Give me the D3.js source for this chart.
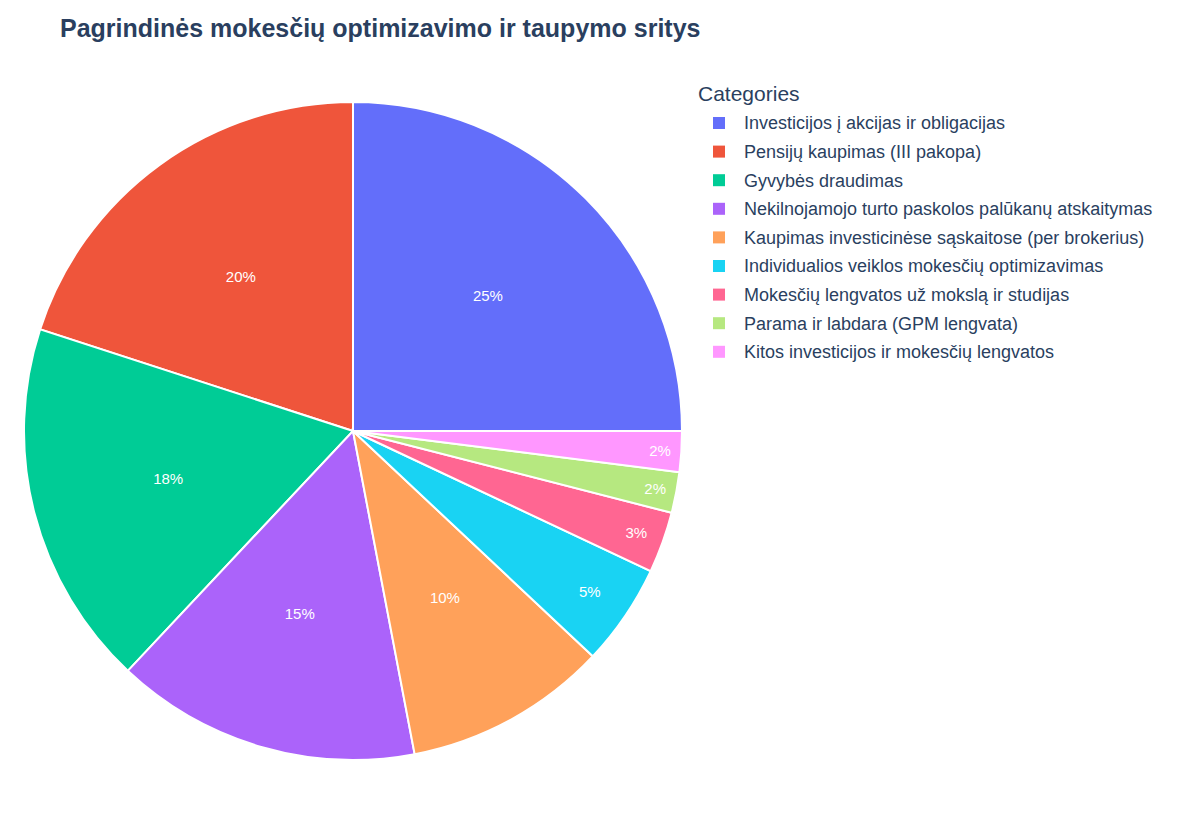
<!DOCTYPE html>
<html><head><meta charset="utf-8">
<script src="https://cdn.jsdelivr.net/npm/d3@7"></script>
<style>body{margin:0;background:#fff;font-family:"Liberation Sans",Arial,sans-serif;}</style>
</head><body><div id="chart"></div>
<script>
const categories = [
  "Investicijos į akcijas ir obligacijas",
  "Pensijų kaupimas (III pakopa)",
  "Gyvybės draudimas",
  "Nekilnojamojo turto paskolos palūkanų atskaitymas",
  "Kaupimas investicinėse sąskaitose (per brokerius)",
  "Individualios veiklos mokesčių optimizavimas",
  "Mokesčių lengvatos už mokslą ir studijas",
  "Parama ir labdara (GPM lengvata)",
  "Kitos investicijos ir mokesčių lengvatos"
];
const values = [25, 20, 18, 15, 10, 5, 3, 2, 2];
const colors = ["#636efa","#ef553b","#00cc96","#ab63fa","#ffa15a","#19d3f3","#ff6692","#b6e880","#ff97ff"];

const width = 1200, height = 840;
const cx = 353, cy = 431, R = 329;

const svg = d3.select("#chart").append("svg")
  .attr("width", width).attr("height", height);

svg.append("text").attr("x", 60).attr("y", 37)
  .attr("font-family", "Liberation Sans, Arial, sans-serif")
  .attr("font-size", 25).attr("font-weight", "bold").attr("fill", "#2a3f5f")
  .text("Pagrindinės mokesčių optimizavimo ir taupymo sritys");

// counterclockwise from 3 o'clock
const pie = d3.pie().sort(null).value(d => d)
  .startAngle(Math.PI / 2).endAngle(Math.PI / 2 - 2 * Math.PI)(values);
const arc = d3.arc().innerRadius(0).outerRadius(R);
const total = d3.sum(values);

const g = svg.append("g").attr("transform", `translate(${cx},${cy})`);
g.selectAll("path").data(pie).enter().append("path")
  .attr("d", arc)
  .attr("fill", (d, i) => colors[i])
  .attr("stroke", "#fff").attr("stroke-width", 2);

g.selectAll("text.lbl").data(pie).enter().append("text")
  .attr("class", "lbl")
  .attr("transform", d => {
    const share = d.data / total;
    const r = share >= 0.1 ? R * 0.58 : share >= 0.05 ? R * 0.87 : share >= 0.03 ? R * 0.915 : R * 0.935;
    const a = (d.startAngle + d.endAngle) / 2;
    return `translate(${r * Math.sin(a)},${-r * Math.cos(a)})`;
  })
  .attr("text-anchor", "middle").attr("dy", "0.35em")
  .attr("font-family", "Liberation Sans, Arial, sans-serif")
  .attr("font-size", 15).attr("fill", "#fff")
  .text(d => Math.round(d.data / total * 100) + "%");

const legend = svg.append("g").attr("transform", "translate(698,0)");
legend.append("text").attr("x", 0).attr("y", 101)
  .attr("font-family", "Liberation Sans, Arial, sans-serif")
  .attr("font-size", 21).attr("fill", "#2a3f5f").text("Categories");
const items = legend.selectAll("g.item").data(categories).enter().append("g")
  .attr("transform", (d, i) => `translate(0,${123 + i * 28.6})`);
items.append("rect").attr("x", 15).attr("y", -6).attr("width", 12).attr("height", 12)
  .attr("fill", (d, i) => colors[i]);
items.append("text").attr("x", 46).attr("dy", "0.35em")
  .attr("font-family", "Liberation Sans, Arial, sans-serif")
  .attr("font-size", 18).attr("fill", "#2a3f5f").text(d => d);
</script></body></html>
